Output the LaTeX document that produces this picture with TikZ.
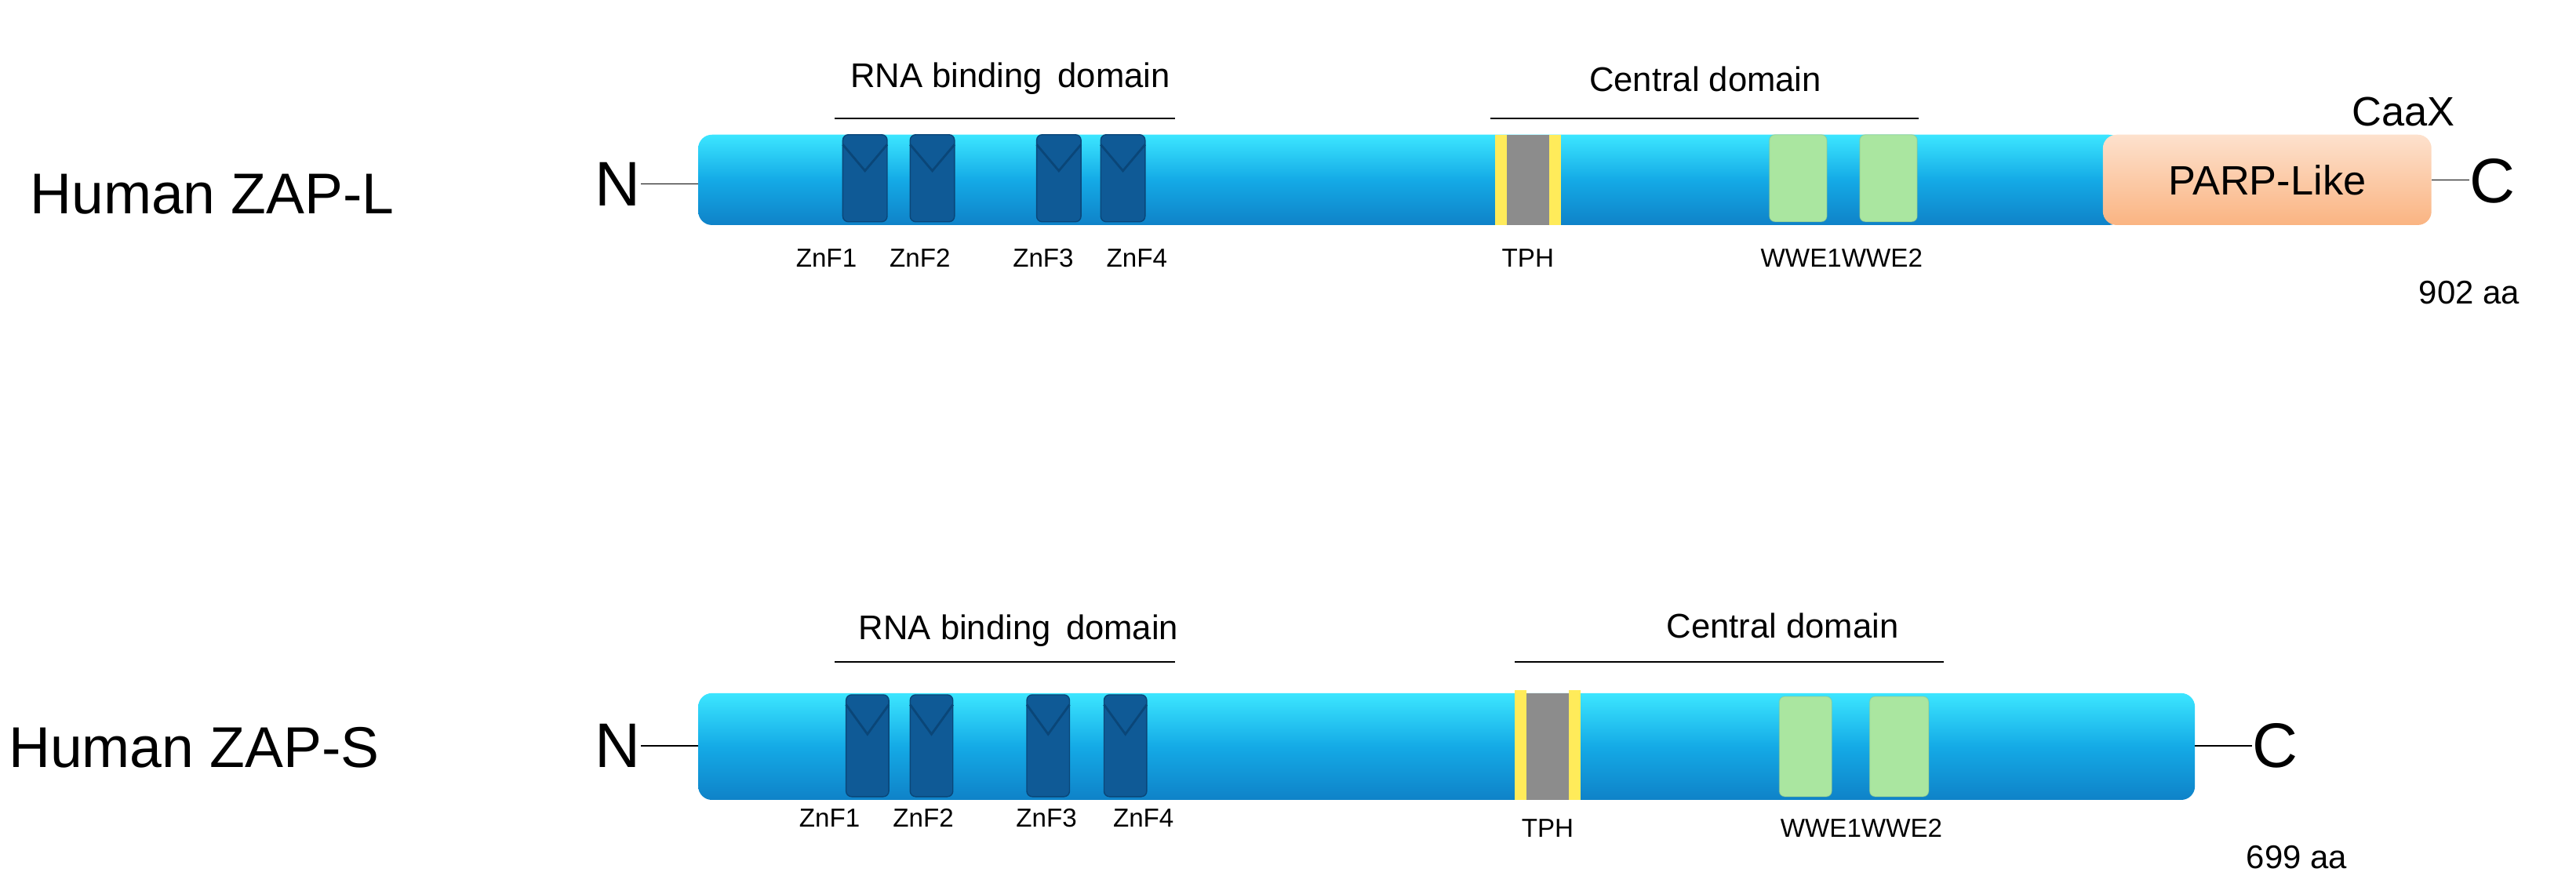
\documentclass[tikz,border=0pt]{standalone}
\usepackage{fontspec}
\setmainfont{Liberation Sans}
\usetikzlibrary{positioning}
\definecolor{barTop}{RGB}{60,230,255}
\definecolor{barMid}{RGB}{20,170,230}
\definecolor{barBot}{RGB}{15,130,200}
\definecolor{znf}{RGB}{15,90,150}
\definecolor{znfB}{RGB}{10,70,120}
\definecolor{tph}{RGB}{140,140,140}
\definecolor{tphY}{RGB}{255,235,90}
\definecolor{wwe}{RGB}{170,230,160}
\definecolor{parp}{RGB}{250,180,130}
\begin{document}
\begin{tikzpicture}[x=0.6pt,y=-0.6pt,
  bar/.style={rounded corners=5pt,top color=barTop,bottom color=barBot,middle color=barMid},
  znfbox/.style={rounded corners=2pt,fill=znf,draw=znfB},
  wwebox/.style={rounded corners=2pt,fill=wwe,draw=wwe!80!black,draw opacity=0.3},
  tphbox/.style={fill=tph},
  tphside/.style={fill=tphY},
  lab/.style={font=\fontsize{9.5}{11}\selectfont,inner sep=0pt},
  dom/.style={font=\fontsize{12.5}{14}\selectfont,inner sep=0pt},
  term/.style={font=\fontsize{23}{25}\selectfont,inner sep=0pt},
  pname/.style={font=\fontsize{21}{23}\selectfont,inner sep=0pt,anchor=west},
  aa/.style={font=\fontsize{12}{14}\selectfont,inner sep=0pt}]
\useasboundingbox (0,0) rectangle (1568,533);
% ---------------- ZAP-L ----------------
\node[pname] (nL) at (18,118) {Human ZAP-L};
\node[term] (NL) at (376,112) {N};
\shade[bar] (425,82) rectangle (1292,137);
\node[rounded corners=5pt,top color=parp!40!white,bottom color=parp,minimum width=200*0.6pt,minimum height=55*0.6pt,inner sep=0pt,font=\fontsize{15}{17}\selectfont] (parp) at (1380,109.5) {PARP-Like};
\node[term] (CL) at (1517,110) {C};
\coordinate (nl2) at (425,112);
\draw (NL.east) -- (NL.east -| nl2);
\draw (parp.east) -- (parp.east -| CL.west);
\node[aa,font=\fontsize{15}{17}\selectfont] (caax) at (1463,68) {CaaX};
\node[aa] (aaL) at (1503,178) {902 aa};
\foreach \x/\w in {513/27,554/27,631/27,670/27}{
  \draw[znfbox] (\x,82) rectangle ++(\w,53);
  \draw[znfB,thick] (\x,88) -- (\x+\w/2,104) -- (\x+\w,88);
}
\node[lab] at (503,157) {ZnF1};
\node[lab] at (560,157) {ZnF2};
\node[lab] at (635,157) {ZnF3};
\node[lab] at (692,157) {ZnF4};
\fill[tphside] (910,82) rectangle (917,137);
\fill[tphside] (943,82) rectangle (950,137);
\fill[tphbox] (917,82) rectangle (943,137);
\node[lab] at (930,157) {TPH};
\draw[wwebox] (1077,82) rectangle (1112,135);
\draw[wwebox] (1132,82) rectangle (1167,135);
\node[lab] at (1121,157) {WWE1WWE2};
\node[dom] (rnaL) at (615,48) {RNA binding\, domain};
\draw (508,72) -- (715,72);
\node[dom] (cenL) at (1038,48) {Central domain};
\draw (907,72) -- (1168,72);
% ---------------- ZAP-S ----------------
\node[pname] (nS) at (5,455) {Human ZAP-S};
\node[term] (NS) at (376,454) {N};
\shade[bar] (425,422) rectangle (1336,487);
\node[term] (CS) at (1385,454) {C};
\coordinate (ns2) at (425,454);
\coordinate (cs1) at (1336,454);
\draw (NS.east) -- (ns2);
\draw (cs1) -- (CS.west);
\node[aa] (aaS) at (1398,522) {699 aa};
\foreach \x/\w in {515/26,554/26,625/26,672/26}{
  \draw[znfbox] (\x,423) rectangle ++(\w,62);
  \draw[znfB,thick] (\x,429) -- (\x+\w/2,447) -- (\x+\w,429);
}
\node[lab] at (505,498) {ZnF1};
\node[lab] at (562,498) {ZnF2};
\node[lab] at (637,498) {ZnF3};
\node[lab] at (696,498) {ZnF4};
\fill[tphside] (922,420) rectangle (929,487);
\fill[tphside] (955,420) rectangle (962,487);
\fill[tphbox] (929,422) rectangle (955,487);
\node[lab] at (942,504) {TPH};
\draw[wwebox] (1083,424) rectangle (1115,485);
\draw[wwebox] (1138,424) rectangle (1174,485);
\node[lab] at (1133,504) {WWE1WWE2};
\node[dom] (rnaS) at (620,384) {RNA binding\, domain};
\draw (508,403) -- (715,403);
\node[dom] (cenS) at (1085,381) {Central domain};
\draw (922,403) -- (1183,403);
\end{tikzpicture}
\end{document}
